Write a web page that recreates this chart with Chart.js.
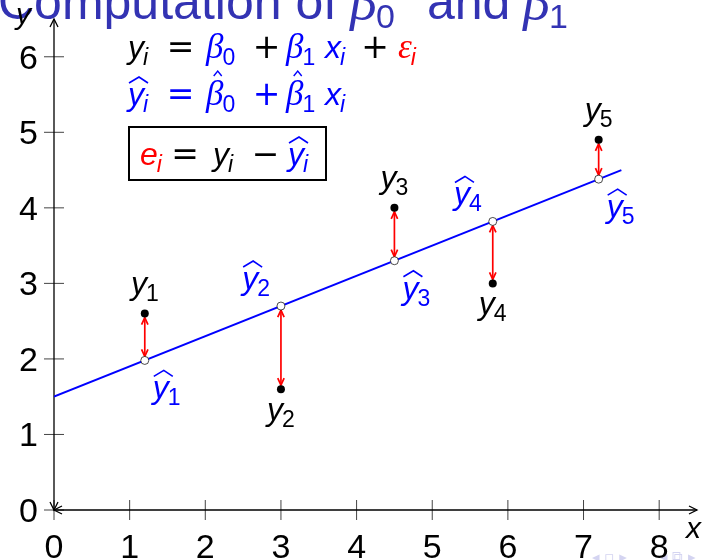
<!DOCTYPE html>
<html lang="en">
<head>
  <meta charset="UTF-8">
  <title>Computation of β0 and β1</title>
  <script src="https://cdn.jsdelivr.net/npm/chart.js"></script>
  <style>
    body {
      margin: 0;
      background: #fff;
    }
    #wrap {
      width: 706px;
      height: 560px;
      position: relative;
    }
  </style>
</head>
<body>
  <div id="wrap">
    <canvas id="fitChart"></canvas>
  </div>

  <script>
    // observations and fitted values
    const xs = [1.2, 3, 4.5, 5.8, 7.2];
    const yObs = [2.6, 1.6, 4.0, 3.0, 4.9];
    const yFit = [1.98, 2.7, 3.3, 3.82, 4.38];

    // regression line end points
    const lineX = [0, 7.5];
    const lineY = [1.5, 4.5];

    const xTicks = [0, 1, 2, 3, 4, 5, 6, 7, 8];
    const yTicks = [0, 1, 2, 3, 4, 5, 6];

    const BLUE = '#0000ff';
    const RED = '#ff0000';
    const TITLE = '#3333b3';

    const IT = 'italic 32px "Liberation Sans"';
    const GR = 'italic 35px "Liberation Serif"';
    const SUB = '23px "Liberation Sans"';
    const SUBIT = 'italic 23px "Liberation Sans"';
    const OP = '33px "DejaVu Sans"';

    function arrowHead(ctx, x, y, ang, len, half) {
      const c = Math.cos(ang), s = Math.sin(ang);
      ctx.beginPath();
      ctx.moveTo(x - len * c - half * s, y - len * s + half * c);
      ctx.lineTo(x, y);
      ctx.lineTo(x - len * c + half * s, y - len * s - half * c);
      ctx.stroke();
    }

    // letter with subscript, optional hat; returns the x where it ends
    function sym(ctx, x, base, letter, sub, color, o) {
      o = o || {};
      const font = o.font || IT;
      ctx.fillStyle = color;
      ctx.strokeStyle = color;
      ctx.textAlign = 'left';
      ctx.textBaseline = 'alphabetic';
      ctx.font = font;
      ctx.fillText(letter, x, base);
      const w = ctx.measureText(letter).width;
      if (o.hat === 'wide') {
        ctx.lineWidth = 1.6;
        ctx.beginPath();
        ctx.moveTo(x + 1, base - 22);
        ctx.lineTo(x + w / 2 + 3, base - 28);
        ctx.lineTo(x + w + 4, base - 22);
        ctx.stroke();
      } else if (o.hat === 'small') {
        ctx.lineWidth = 1.4;
        ctx.beginPath();
        ctx.moveTo(x + w / 2 - 1, base - 29);
        ctx.lineTo(x + w / 2 + 3, base - 34);
        ctx.lineTo(x + w / 2 + 7, base - 29);
        ctx.stroke();
      }
      if (!sub) return x + w;
      ctx.font = sub === 'i' ? SUBIT : (o.subFont || SUB);
      ctx.fillText(sub, x + w - 1, base + (o.subDrop || 7));
      return x + w - 1 + ctx.measureText(sub).width;
    }

    function symWidth(ctx, letter, sub) {
      ctx.font = IT;
      let w = ctx.measureText(letter).width - 1;
      ctx.font = SUB;
      return w + ctx.measureText(sub).width;
    }

    function op(ctx, s, cx, base, color) {
      ctx.font = OP;
      ctx.fillStyle = color;
      ctx.textAlign = 'center';
      ctx.textBaseline = 'alphabetic';
      ctx.fillText(s, cx, base);
    }

    const slidePlugin = {
      id: 'slide',
      beforeDraw(chart) {
        const ctx = chart.ctx;
        ctx.save();
        // frame title, cut off at the top edge
        ctx.fillStyle = TITLE;
        ctx.textBaseline = 'alphabetic';
        ctx.textAlign = 'left';
        ctx.font = '50px "Liberation Sans"';
        ctx.fillText('Computation of', -2, 19);
        ctx.fillText('and', 427, 19);
        const tf = { font: 'italic 54px "Liberation Serif"', subFont: '34px "Liberation Sans"', subDrop: 9 };
        sym(ctx, 350, 19, 'β', '0', TITLE, tf);
        sym(ctx, 523, 19, 'β', '1', TITLE, tf);

        // navigation symbols
        ctx.fillStyle = 'rgba(160,160,225,0.45)';
        ctx.font = '15px "DejaVu Sans"';
        ctx.fillText('◂ ▫ ▸', 592, 562);
        ctx.fillText('◂ ⧉ ▸', 660, 562);
        ctx.restore();
      },
      beforeDatasetsDraw(chart) {
        const ctx = chart.ctx;
        const sx = chart.scales.x, sy = chart.scales.y;
        const x0 = sx.getPixelForValue(0), y0 = sy.getPixelForValue(0);
        const xEnd = sx.getPixelForValue(sx.max), yEnd = sy.getPixelForValue(sy.max);
        ctx.save();

        // tick crosses
        ctx.strokeStyle = '#444';
        ctx.lineWidth = 1;
        xTicks.forEach(v => {
          const px = sx.getPixelForValue(v);
          ctx.beginPath();
          ctx.moveTo(px, y0 - 10);
          ctx.lineTo(px, y0 + 10);
          ctx.stroke();
        });
        yTicks.forEach(v => {
          const py = sy.getPixelForValue(v);
          ctx.beginPath();
          ctx.moveTo(x0 - 10, py);
          ctx.lineTo(x0 + 10, py);
          ctx.stroke();
        });

        // axes with arrows at both ends
        ctx.strokeStyle = '#000';
        ctx.lineWidth = 1.3;
        ctx.beginPath();
        ctx.moveTo(x0, y0);
        ctx.lineTo(xEnd, y0);
        ctx.moveTo(x0, y0);
        ctx.lineTo(x0, yEnd);
        ctx.stroke();
        arrowHead(ctx, xEnd, y0, 0, 8, 4);
        arrowHead(ctx, x0, y0, Math.PI, 8, 4);
        arrowHead(ctx, x0, yEnd, -Math.PI / 2, 8, 4);
        arrowHead(ctx, x0, y0, Math.PI / 2, 8, 4);

        // tick labels
        ctx.fillStyle = '#000';
        ctx.font = '34px "Liberation Sans"';
        ctx.textBaseline = 'alphabetic';
        ctx.textAlign = 'center';
        xTicks.forEach(v => ctx.fillText(String(v), sx.getPixelForValue(v), 558));
        ctx.textAlign = 'right';
        yTicks.forEach(v => ctx.fillText(String(v), 38, sy.getPixelForValue(v) + 12));

        // axis names
        ctx.textAlign = 'left';
        ctx.font = 'italic 30px "Liberation Sans"';
        ctx.fillText('x', 686, 538);
        ctx.fillText('y', 16, 24);

        // residuals: red double arrows between fitted and observed values
        ctx.strokeStyle = RED;
        ctx.lineWidth = 1.7;
        xs.forEach((x, i) => {
          const px = sx.getPixelForValue(x);
          const pObs = sy.getPixelForValue(yObs[i]);
          const pFit = sy.getPixelForValue(yFit[i]);
          const dir = pObs < pFit ? -1 : 1;
          const a = pFit + dir * 4, b = pObs - dir * 4;
          ctx.beginPath();
          ctx.moveTo(px, a);
          ctx.lineTo(px, b);
          ctx.stroke();
          arrowHead(ctx, px, b, dir * Math.PI / 2, 7, 3.2);
          arrowHead(ctx, px, a, -dir * Math.PI / 2, 7, 3.2);
        });
        ctx.restore();
      },
      afterDatasetsDraw(chart) {
        const ctx = chart.ctx;
        const sx = chart.scales.x, sy = chart.scales.y;
        ctx.save();

        // point labels
        xs.forEach((x, i) => {
          const px = sx.getPixelForValue(x);
          const pObs = sy.getPixelForValue(yObs[i]);
          const pFit = sy.getPixelForValue(yFit[i]);
          const n = String(i + 1);
          const w = symWidth(ctx, 'y', n);
          if (yObs[i] > yFit[i]) {
            sym(ctx, px - w / 2, pObs - 20, 'y', n, '#000');
            sym(ctx, px + 8, pFit + 38, 'y', n, BLUE, { hat: 'wide' });
          } else {
            sym(ctx, px - w / 2, pObs + 31, 'y', n, '#000');
            sym(ctx, px - 11 - w, pFit - 17, 'y', n, BLUE, { hat: 'wide' });
          }
        });

        // model equations
        let b = 58;
        sym(ctx, 128, b, 'y', 'i', '#000');
        op(ctx, '=', 180.5, b, '#000');
        sym(ctx, 206, b, 'β', '0', BLUE, { font: GR });
        op(ctx, '+', 266.5, b, '#000');
        sym(ctx, 286, b, 'β', '1', BLUE, { font: GR });
        sym(ctx, 325, b, 'x', 'i', BLUE);
        op(ctx, '+', 375, b, '#000');
        sym(ctx, 398, b, 'ε', 'i', RED, { font: GR });

        b = 105;
        sym(ctx, 128, b, 'y', 'i', BLUE, { hat: 'wide' });
        op(ctx, '=', 180.5, b, BLUE);
        sym(ctx, 206, b, 'β', '0', BLUE, { font: GR, hat: 'small' });
        op(ctx, '+', 266.5, b, BLUE);
        sym(ctx, 286, b, 'β', '1', BLUE, { font: GR, hat: 'small' });
        sym(ctx, 325, b, 'x', 'i', BLUE);

        b = 165;
        ctx.strokeStyle = '#000';
        ctx.lineWidth = 2;
        ctx.strokeRect(129, 127, 197, 53);
        sym(ctx, 140, b, 'e', 'i', RED);
        op(ctx, '=', 185, b, '#000');
        sym(ctx, 213, b, 'y', 'i', '#000');
        op(ctx, '−', 265.5, b, '#000');
        sym(ctx, 288, b, 'y', 'i', BLUE, { hat: 'wide' });

        ctx.restore();
      }
    };

    new Chart(document.getElementById('fitChart'), {
      type: 'scatter',
      data: {
        datasets: [
          {
            label: 'observed',
            data: xs.map((x, i) => ({ x: x, y: yObs[i] })),
            pointRadius: 4,
            pointBackgroundColor: '#000',
            pointBorderColor: '#000',
            pointBorderWidth: 0,
            order: 1
          },
          {
            label: 'fitted',
            data: xs.map((x, i) => ({ x: x, y: yFit[i] })),
            pointRadius: 4,
            pointBackgroundColor: '#fff',
            pointBorderColor: '#000',
            pointBorderWidth: 0.7,
            order: 2
          },
          {
            label: 'regression line',
            type: 'line',
            data: lineX.map((x, i) => ({ x: x, y: lineY[i] })),
            borderColor: BLUE,
            borderWidth: 2,
            pointRadius: 0,
            fill: false,
            order: 3
          }
        ]
      },
      options: {
        responsive: true,
        maintainAspectRatio: false,
        animation: false,
        events: [],
        layout: {
          padding: { left: 54, right: 9, top: 19, bottom: 50 }
        },
        scales: {
          x: { type: 'linear', min: 0, max: 8.5, display: false },
          y: { type: 'linear', min: 0, max: 6.5, display: false }
        },
        plugins: {
          legend: { display: false },
          tooltip: { enabled: false }
        }
      },
      plugins: [slidePlugin]
    });
  </script>
</body>
</html>
